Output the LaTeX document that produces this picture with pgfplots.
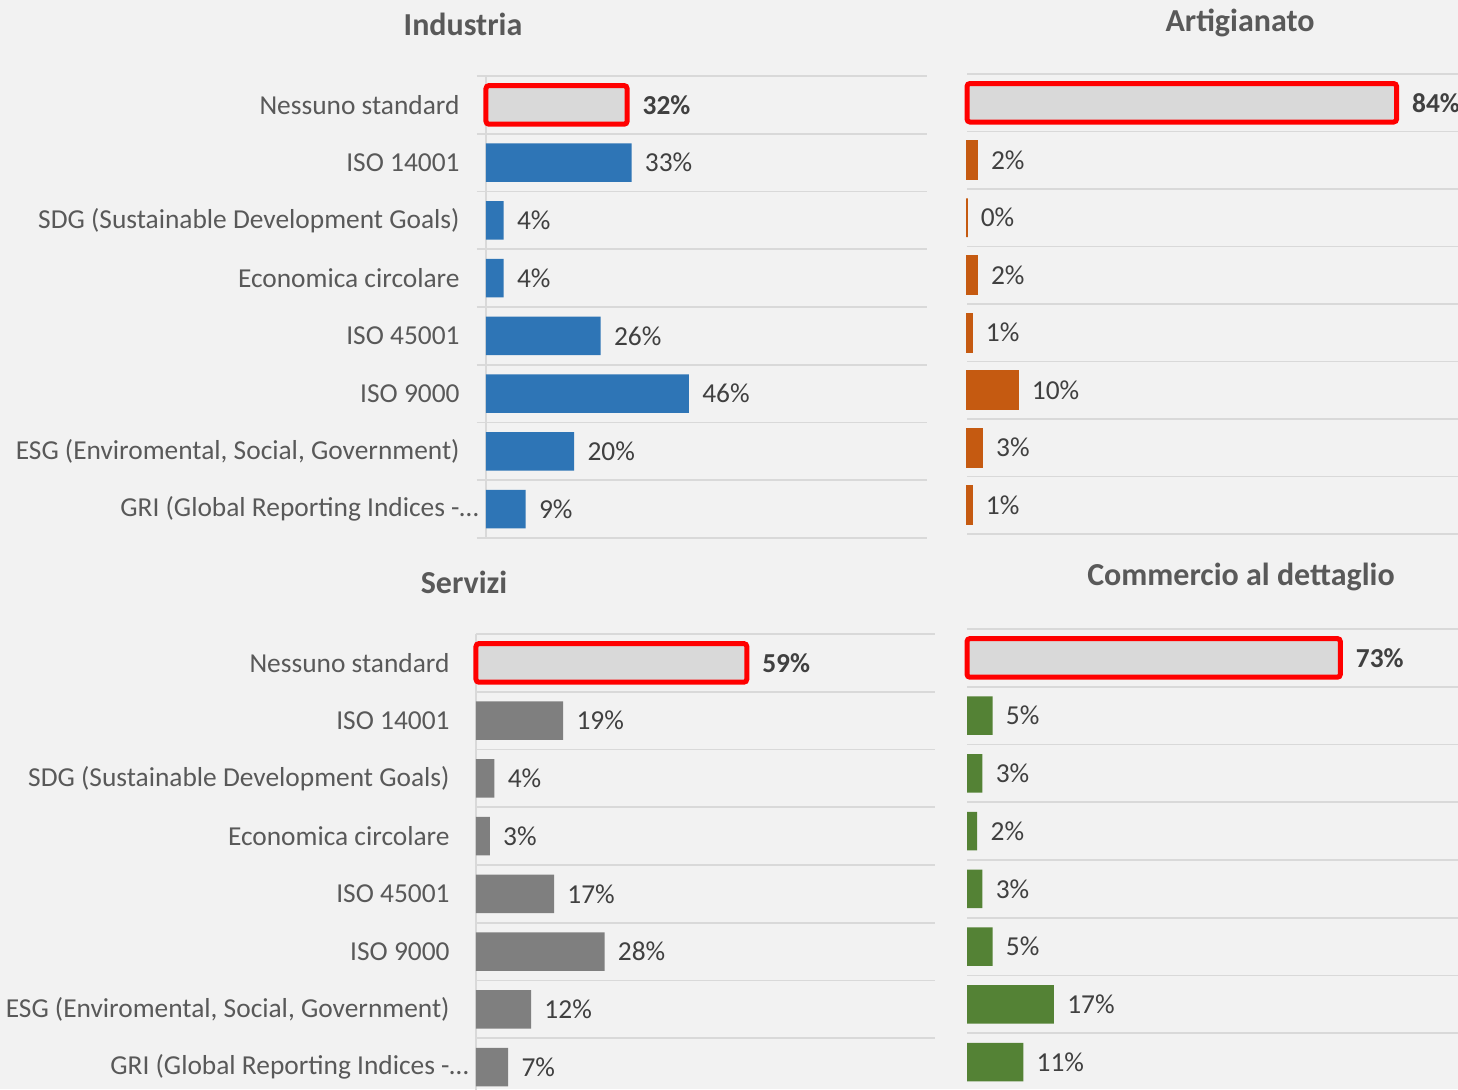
\documentclass[border=0pt]{standalone}
\usepackage{pgfplots}
\pgfplotsset{compat=1.18}
\usepackage{fontspec}
\setmainfont{Carlito}
\definecolor{bg}{HTML}{F2F2F2}
\definecolor{gridc}{HTML}{D9D9D9}
\definecolor{labc}{HTML}{595959}
\definecolor{valc}{HTML}{404040}
\definecolor{barg}{HTML}{D9D9D9}
\definecolor{blueC}{HTML}{2E75B6}
\definecolor{orangeC}{HTML}{C55A11}
\definecolor{grayC}{HTML}{7F7F7F}
\definecolor{greenC}{HTML}{548235}
\newcommand\labfont{\fontsize{13.7}{16}\selectfont}
\newcommand\titfont{\fontsize{16}{19}\selectfont\bfseries}
\pgfplotsset{
  panel/.style={
    xbar, scale only axis, bar shift=0pt, bar width=0.67,
    y dir=reverse, ymin=-0.5, ymax=7.5, xmin=0,
    xtick=\empty, ytick={0,...,7},
    minor ytick={-0.5,0.5,...,7.5}, yminorgrids,
    minor grid style={gridc, line width=0.9pt},
    axis line style={draw=none},
    major tick length=0pt, tick align=outside, tick pos=left,
    minor tick length=4.5pt, minor tick style={gridc, line width=0.9pt},
    clip=false, point meta=x,
    /pgf/number format/assume math mode=true,
    nodes near coords={\pgfmathprintnumber{\pgfplotspointmeta}\%},
    nodes near coords style={anchor=west, inner sep=0pt, xshift=6.5pt, font=\labfont, text=valc},
    yticklabel style={font=\labfont, text=labc, inner sep=0pt, xshift=-13pt},
  },
  withlabels/.style={
    yticklabels={{Nessuno standard},{ISO 14001},{SDG (Sustainable Development Goals)},{Economica circolare},{ISO 45001},{ISO 9000},{ESG (Enviromental, Social, Government)},{GRI (Global Reporting Indices -…\kern-9.5pt}},
    extra x ticks={0}, extra x tick labels={},
    extra x tick style={grid=major, major grid style={gridc, line width=0.9pt}},
  },
  nolabels/.style={yticklabels={}, minor tick length=0pt},
  redbar/.style={fill=barg, draw=red, line width=2.5pt, rounded corners=1.5pt,
    every node near coord/.append style={font=\labfont\bfseries}},
}
\begin{document}
\begin{tikzpicture}
\fill[bg] (0,0) rectangle (729pt,-544.5pt);
\useasboundingbox (0,0) rectangle (729pt,-544.5pt);

\node[font=\titfont, text=labc] at (231.5pt,-12pt) {Industria};
\node[font=\titfont, text=labc] at (620pt,-11.5pt) {Artigianato};
\node[font=\titfont, text=labc] at (232pt,-291pt) {Servizi};
\node[font=\titfont, text=labc] at (620.5pt,-288.5pt) {Commercio al dettaglio};

% Industria
\begin{axis}[panel, withlabels, at={(243pt,-38pt)}, anchor=north west,
  width=220.5pt, height=231pt, xmax=100]
\addplot[redbar] coordinates {(32,0)};
\addplot[fill=blueC, draw=none] coordinates {(33,1) (4,2) (4,3) (26,4) (46,5) (20,6) (9,7)};
\end{axis}

% Artigianato
\begin{axis}[panel, nolabels, at={(483.5pt,-37pt)}, anchor=north west,
  width=245.5pt, height=230pt, xmax=96]
\addplot[redbar] coordinates {(84,0)};
\addplot[fill=orangeC, draw=orangeC, line width=0.8pt] coordinates {(2,1) (0,2) (2,3) (1,4) (10,5) (3,6) (1,7)};
\end{axis}

% Servizi
\begin{axis}[panel, withlabels, minor tick length=0pt, at={(238pt,-317pt)}, anchor=north west,
  width=229.5pt, height=231pt, xmax=100]
\addplot[redbar] coordinates {(59,0)};
\addplot[fill=grayC, draw=none] coordinates {(19,1) (4,2) (3,3) (17,4) (28,5) (12,6) (7,7)};
\end{axis}

% Commercio al dettaglio
\begin{axis}[panel, nolabels, at={(483.5pt,-314.5pt)}, anchor=north west,
  width=245.5pt, height=231pt, xmax=96]
\addplot[redbar] coordinates {(73,0)};
\addplot[fill=greenC, draw=none] coordinates {(5,1) (3,2) (2,3) (3,4) (5,5) (17,6) (11,7)};
\end{axis}
\end{tikzpicture}
\end{document}
